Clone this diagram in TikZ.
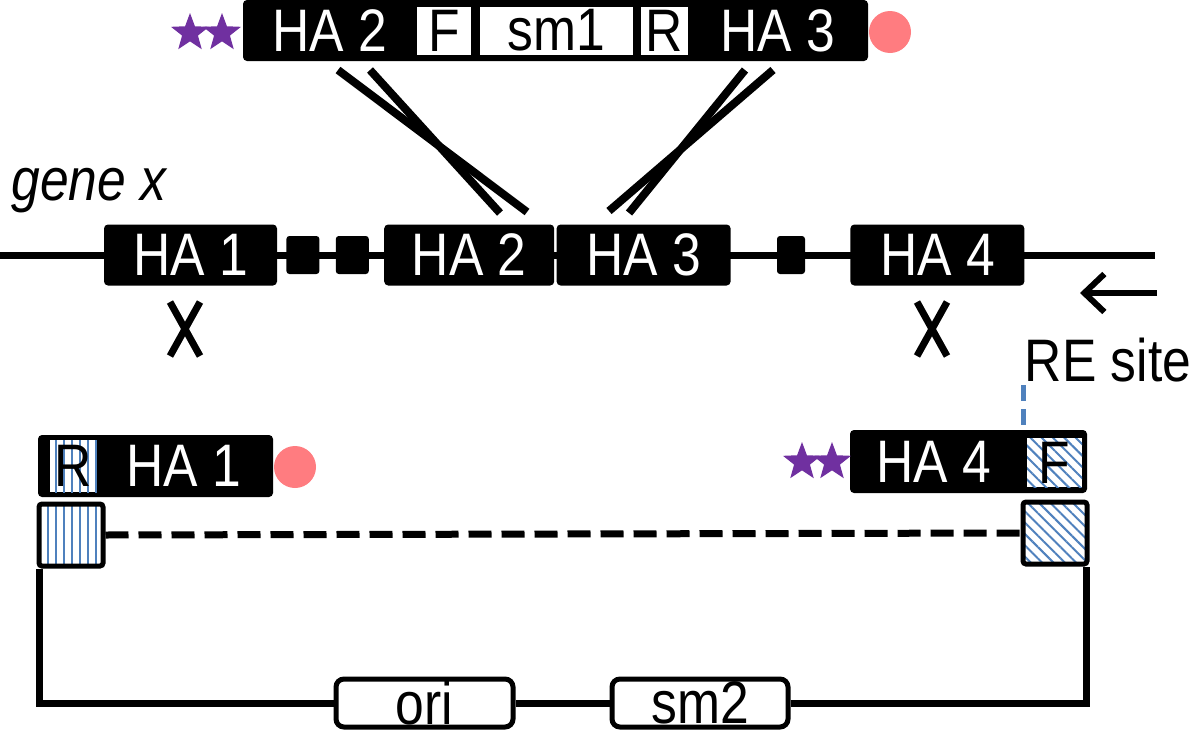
\documentclass[tikz,border=0pt]{standalone}
\usepackage{fontspec}
\setmainfont{Liberation Sans}[FakeStretch=0.86]
\usepackage{tikz}
\usetikzlibrary{arrows.meta,positioning,patterns.meta,shapes.geometric}
\definecolor{hatchblue}{HTML}{4F81BD}
\definecolor{starpurple}{HTML}{7030A0}
\definecolor{dotpink}{HTML}{FF7C80}
\newcommand{\labelfont}{\fontsize{60}{62}\selectfont}

\begin{document}
\begin{tikzpicture}[
  x=1pt, y=-1pt,
  font=\labelfont,
  blk/.style={fill=black,rounded corners=4pt,inner sep=0pt,text=white,minimum height=61pt},
  exon/.style={fill=black,rounded corners=3pt,minimum width=33pt,minimum height=38pt,inner sep=0pt},
  whitebox/.style={fill=white,inner sep=0pt,minimum height=48pt,text=black},
  vhatch/.style={preaction={fill=white},pattern={Lines[angle=90,distance=8pt,line width=1.5pt]},
    pattern color=hatchblue,inner sep=0pt,text=black},
  dhatch/.style={preaction={fill=white},pattern={Lines[angle=-45,distance=8pt,line width=2pt]},
    pattern color=hatchblue,inner sep=0pt,text=black},
  sitebox/.style={draw,line width=5pt,rounded corners=3pt,minimum width=64pt,minimum height=62pt},
  plasbox/.style={draw,fill=white,line width=5pt,rounded corners=8pt,inner sep=0pt,minimum height=48pt},
  purplestar/.style={star,star points=5,star point ratio=2.4,fill=starpurple,minimum size=40pt,inner sep=0pt},
  dot/.style={circle,fill=dotpink,minimum size=42pt,inner sep=0pt},
  dna/.style={line width=7pt},
  swap/.style={line width=8pt},
  cross/.style={line width=7pt},
  backbone/.style={line width=7pt},
  redash/.style={line width=5pt,draw=hatchblue,dash pattern=on 16pt off 8pt}
]
\useasboundingbox (0,0) rectangle (1200,731);

% donor construct
\node[blk,minimum width=625pt] (donor) at (555.5,30.5) {};
\node[whitebox,minimum width=54pt] (fwd) at (444,30.5) {F};
\node[whitebox,minimum width=153pt] (sm1) at (556.5,30.5) {sm1};
\node[whitebox,minimum width=47pt] (rev) at (664.5,30.5) {R};
\node[text=white] (ha2t) at (330,30.5) {HA 2};
\node[text=white] (ha3t) at (778,30.5) {HA 3};
\node[purplestar] (s1) at (190,33) {};
\node[purplestar] (s2) at (222,33) {};
\node[dot] (d1) at (890,32) {};

% gene x locus
\node[anchor=base west,font=\labelfont\itshape] (gene) at (8,200) {gene x};
\coordinate (geneL) at (0,255);
\coordinate (geneR) at (1155,255);
\draw[dna] (geneL) -- (geneR);
\node[blk,minimum width=173pt] (ha1) at (190.5,255) {HA 1};
\node[exon,right=9pt of ha1] (e1) {};
\node[exon,right=16pt of e1] (e2) {};
\node[blk,minimum width=170pt,right=15pt of e2] (ha2) {HA 2};
\node[blk,minimum width=174pt,right=2pt of ha2] (ha3) {HA 3};
\node[exon,minimum width=28pt,right=46pt of ha3] (e3) {};
\node[blk,minimum width=174pt,right=45pt of e3] (ha4) {HA 4};

% crossing over
\coordinate (a1) at (338,70);
\coordinate (a2) at (370,70);
\coordinate (b1) at (500,213);
\coordinate (b2) at (527,212);
\draw[swap] (a1) -- (b2);
\draw[swap] (a2) -- (b1);
\coordinate (a3) at (745,70);
\coordinate (a4) at (773,70);
\coordinate (b3) at (609,211);
\coordinate (b4) at (629,213);
\draw[swap] (a3) -- (b4);
\draw[swap] (a4) -- (b3);

\coordinate (x1) at (170,302);
\coordinate (x2) at (200,356);
\coordinate (x3) at (200,302);
\coordinate (x4) at (170,356);
\draw[cross] (x1) -- (x2);
\draw[cross] (x3) -- (x4);
\coordinate (x5) at (917,302);
\coordinate (x6) at (947,356);
\coordinate (x7) at (947,302);
\coordinate (x8) at (917,356);
\draw[cross] (x5) -- (x6);
\draw[cross] (x7) -- (x8);

\coordinate (arrS) at (1157,293);
\coordinate (arrE) at (1080,293);
\draw[line width=6pt,-{Straight Barb[length=20pt,width=38pt]}] (arrS) -- (arrE);

% vector
\node[blk,minimum width=235pt,minimum height=62pt] (ha1v) at (155.5,466) {};
\node[vhatch,minimum width=47pt,minimum height=52pt] (revv) at (73.5,466) {R};
\node[text=white] (ha1vt) at (184,466) {HA 1};
\node[dot] (d2) at (295,467) {};

\node[blk,minimum width=237pt,minimum height=63pt] (ha4v) at (968.5,461.5) {};
\node[dhatch,minimum width=55pt,minimum height=49pt] (fwdv) at (1054.5,462.5) {F};
\node[text=white] (ha4vt) at (934,462) {HA 4};
\node[purplestar] (s3) at (802,462) {};
\node[purplestar] (s4) at (832,462) {};

\node (resite) at (1108,360) {RE site};
\coordinate (reTop) at (1023,385);
\draw[redash] (reTop) -- (reTop |- ha4v.north);

\node[sitebox,vhatch] (lsq) at (71,535) {};
\node[sitebox,dhatch] (rsq) at (1055,533) {};
\draw[backbone,dash pattern=on 23pt off 10pt] (lsq.east) -- (rsq.west);

\node[plasbox,minimum width=177pt] (ori) at (424.5,703) {ori};
\node[plasbox,minimum width=176pt] (sm2) at (700,703) {sm2};
\draw[backbone] ([xshift=3pt]lsq.south west) |- (ori.west);
\draw[backbone] (ori) -- (sm2);
\draw[backbone] (sm2.east) -| ([xshift=-3pt]rsq.south east);
\end{tikzpicture}
\end{document}
